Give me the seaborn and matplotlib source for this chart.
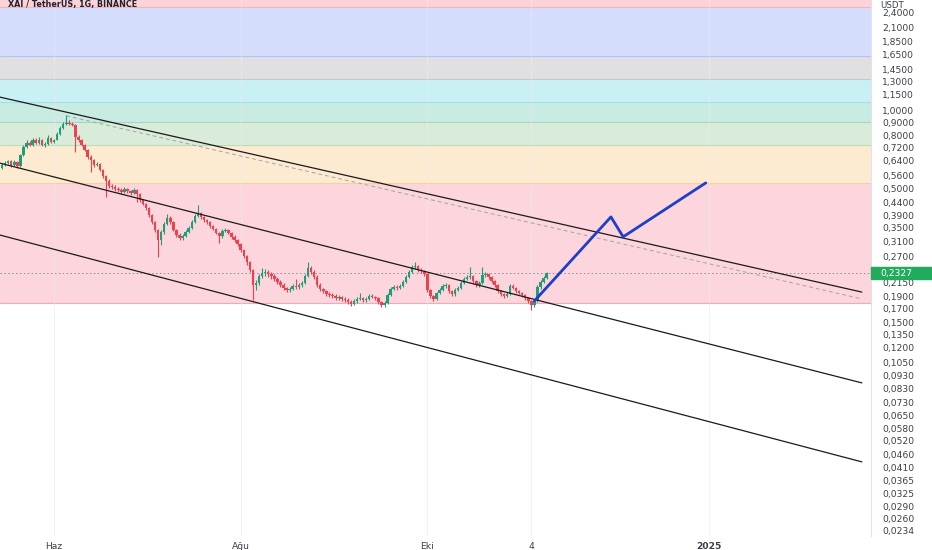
import matplotlib
matplotlib.use("Agg")
import matplotlib.pyplot as plt
import matplotlib.transforms as mtransforms
from matplotlib.patches import Rectangle
from matplotlib.ticker import FixedLocator, FuncFormatter, NullLocator
import numpy as np
import pandas as pd
import seaborn as sns

# daily candles XAI/USDT, first candle on 2024-05-15
first_day = "2024-05-15"
first_open = 0.600
closes = [
    0.615, 0.626, 0.637, 0.615, 0.632, 0.610, 0.673, 0.723, 0.749, 0.736,
    0.769, 0.749, 0.769, 0.736, 0.742, 0.783, 0.756, 0.769, 0.812, 0.857,
    0.888, 0.896, 0.888, 0.880, 0.790, 0.769, 0.736, 0.703, 0.661, 0.643,
    0.615, 0.621, 0.588, 0.557, 0.533, 0.510, 0.505, 0.496, 0.492, 0.483,
    0.496, 0.487, 0.479, 0.492, 0.474, 0.450, 0.434, 0.4185, 0.393, 0.369,
    0.344, 0.314, 0.338, 0.3626, 0.3827, 0.369, 0.344, 0.329, 0.320, 0.3257,
    0.338, 0.350, 0.369, 0.3896, 0.400, 0.386, 0.376, 0.369, 0.356, 0.347,
    0.3346, 0.3257, 0.3406, 0.344, 0.3346, 0.323, 0.314, 0.303, 0.287, 0.2723,
    0.258, 0.240, 0.210, 0.214, 0.2277, 0.234, 0.236, 0.2318, 0.2277, 0.2216,
    0.216, 0.210, 0.2045, 0.201, 0.2026, 0.2082, 0.206, 0.210, 0.214, 0.2277,
    0.2446, 0.236, 0.226, 0.210, 0.2026, 0.199, 0.1938, 0.192, 0.1903, 0.187,
    0.1887, 0.1853, 0.1837, 0.1804, 0.1772, 0.182, 0.1853, 0.187, 0.1837, 0.1853,
    0.1903, 0.1887, 0.187, 0.1804, 0.1756, 0.1788, 0.192, 0.2026, 0.206, 0.2045,
    0.2082, 0.216, 0.226, 0.236, 0.247, 0.249, 0.240, 0.238, 0.2318, 0.201,
    0.1903, 0.1853, 0.1955, 0.201, 0.2082, 0.210, 0.199, 0.1938, 0.201, 0.2045,
    0.214, 0.2216, 0.226, 0.2277, 0.2177, 0.210, 0.214, 0.230, 0.2318, 0.226,
    0.2177, 0.210, 0.199, 0.1938, 0.1903, 0.1938, 0.2082, 0.2045, 0.199, 0.1955,
    0.192, 0.187, 0.182, 0.1756, 0.182, 0.206, 0.216, 0.224, 0.2327,
]
highs = [
    0.625, 0.635, 0.645, 0.642, 0.640, 0.636, 0.680, 0.735, 0.765, 0.760,
    0.785, 0.780, 0.790, 0.775, 0.752, 0.800, 0.792, 0.778, 0.822, 0.868,
    0.900, 0.962, 0.915, 0.905, 0.890, 0.800, 0.775, 0.742, 0.708, 0.670,
    0.650, 0.630, 0.625, 0.592, 0.562, 0.540, 0.518, 0.512, 0.505, 0.500,
    0.505, 0.500, 0.492, 0.500, 0.497, 0.478, 0.455, 0.438, 0.422, 0.396,
    0.372, 0.348, 0.344, 0.368, 0.395, 0.388, 0.372, 0.348, 0.334, 0.330,
    0.342, 0.355, 0.374, 0.395, 0.430, 0.405, 0.390, 0.380, 0.372, 0.360,
    0.350, 0.338, 0.346, 0.350, 0.348, 0.338, 0.327, 0.318, 0.306, 0.290,
    0.275, 0.261, 0.243, 0.220, 0.232, 0.245, 0.242, 0.240, 0.235, 0.231,
    0.225, 0.219, 0.213, 0.207, 0.206, 0.212, 0.222, 0.214, 0.218, 0.232,
    0.258, 0.248, 0.239, 0.229, 0.213, 0.205, 0.201, 0.197, 0.195, 0.193,
    0.192, 0.191, 0.188, 0.186, 0.183, 0.185, 0.188, 0.196, 0.189, 0.188,
    0.193, 0.193, 0.191, 0.189, 0.182, 0.182, 0.195, 0.206, 0.209, 0.210,
    0.212, 0.219, 0.229, 0.240, 0.252, 0.258, 0.252, 0.244, 0.241, 0.234,
    0.203, 0.192, 0.198, 0.204, 0.212, 0.214, 0.212, 0.201, 0.204, 0.208,
    0.217, 0.225, 0.230, 0.247, 0.230, 0.220, 0.217, 0.247, 0.236, 0.234,
    0.228, 0.220, 0.212, 0.201, 0.196, 0.197, 0.212, 0.211, 0.206, 0.201,
    0.197, 0.194, 0.189, 0.184, 0.185, 0.209, 0.219, 0.228, 0.236,
]
lows = [
    0.595, 0.608, 0.620, 0.605, 0.610, 0.598, 0.605, 0.668, 0.715, 0.725,
    0.730, 0.740, 0.742, 0.728, 0.722, 0.738, 0.748, 0.745, 0.765, 0.805,
    0.850, 0.875, 0.878, 0.870, 0.690, 0.755, 0.728, 0.695, 0.650, 0.578,
    0.605, 0.608, 0.580, 0.548, 0.462, 0.502, 0.495, 0.488, 0.483, 0.474,
    0.478, 0.480, 0.470, 0.472, 0.442, 0.442, 0.428, 0.412, 0.386, 0.362,
    0.336, 0.270, 0.300, 0.332, 0.358, 0.362, 0.340, 0.322, 0.315, 0.315,
    0.322, 0.334, 0.346, 0.365, 0.385, 0.380, 0.370, 0.362, 0.350, 0.342,
    0.330, 0.306, 0.320, 0.336, 0.330, 0.318, 0.309, 0.298, 0.282, 0.268,
    0.252, 0.235, 0.1837, 0.200, 0.210, 0.224, 0.228, 0.226, 0.222, 0.218,
    0.212, 0.206, 0.200, 0.197, 0.198, 0.200, 0.203, 0.203, 0.207, 0.211,
    0.225, 0.232, 0.222, 0.206, 0.199, 0.195, 0.190, 0.188, 0.187, 0.184,
    0.184, 0.182, 0.180, 0.177, 0.174, 0.175, 0.179, 0.183, 0.181, 0.181,
    0.183, 0.186, 0.184, 0.177, 0.172, 0.173, 0.177, 0.190, 0.200, 0.201,
    0.202, 0.206, 0.213, 0.223, 0.233, 0.243, 0.236, 0.234, 0.228, 0.198,
    0.187, 0.182, 0.183, 0.193, 0.199, 0.205, 0.196, 0.190, 0.191, 0.199,
    0.202, 0.211, 0.219, 0.222, 0.214, 0.207, 0.207, 0.212, 0.226, 0.222,
    0.214, 0.207, 0.196, 0.190, 0.187, 0.188, 0.192, 0.202, 0.196, 0.193,
    0.189, 0.184, 0.178, 0.168, 0.172, 0.180, 0.203, 0.213, 0.221,
]
last_price = 0.2327

# colored zones (price edges, bottom to top)
zone_edges = [0.1788, 0.523, 0.736, 0.906, 1.081, 1.328, 1.632, 2.53, 3.2]
zone_colors = ["#fcd6dc", "#fdebd1", "#d9ecd9", "#c8ebe2", "#c9f0f5",
               "#e0e0e2", "#d4ddfc", "#fbd3d9"]
zone_lines = ["#f7a8b4", "#f9cf9c", "#b9dcb9", "#a3d8c8", "#a2e0ea",
              "#c8c8cc", "#b3c2f5", "#f4b3bd"]

# channel and projection drawings
channel_dates = ["2024-05-14", "2025-02-20"]
channel_upper = [1.130, 0.197]
channel_mid = [0.626, 0.0874]
channel_low = [0.329, 0.0431]
ref_dates = ["2024-06-05", "2025-02-20"]
ref_prices = [0.954, 0.1853]
path_dates = ["2024-11-05", "2024-11-30", "2024-12-04", "2024-12-31"]
path_prices = [0.182, 0.386, 0.323, 0.5235]

y_ticks = [2.4, 2.1, 1.85, 1.65, 1.45, 1.3, 1.15, 1.0, 0.9, 0.8, 0.72, 0.64,
           0.56, 0.5, 0.44, 0.39, 0.35, 0.31, 0.27, 0.24, 0.215, 0.19, 0.17,
           0.15, 0.135, 0.12, 0.105, 0.093, 0.083, 0.073, 0.065, 0.058,
           0.052, 0.046, 0.041, 0.0365, 0.0325, 0.029, 0.026, 0.0234]
x_tick_dates = ["2024-06-01", "2024-08-01", "2024-10-01", "2024-11-04", "2025-01-01"]
x_tick_labels = ["Haz", "Ağu", "Eki", "4", "2025"]

sns.set_style("white")
plt.rcParams['font.family'] = ['DejaVu Sans']

W, H = 932, 550
fig = plt.figure(figsize=(W / 100, H / 100), dpi=100)
ax = fig.add_axes([0, 14 / H, 871 / W, 536 / H])
ax.set_yscale("log")

dates = pd.date_range(first_day, periods=len(closes), freq="D")
c = np.array(closes)
o = np.array([first_open] + closes[:-1])
up = c >= o
colors = np.where(up, "#1f9e78", "#f0404f")

# zones
for i, col in enumerate(zone_colors):
    ax.axhspan(zone_edges[i], zone_edges[i + 1], color=col, lw=0, zorder=0)
for i, col in enumerate(zone_lines):
    ax.axhline(zone_edges[i], color=col, lw=0.8, zorder=0.5)

# vertical grid
for d in x_tick_dates:
    ax.axvline(pd.Timestamp(d), color="#e9ebf0", lw=0.6, zorder=0.6, alpha=0.7)

# candles
ax.vlines(dates, lows, highs, colors=colors, lw=0.8, zorder=3)
ax.bar(dates, np.maximum(np.abs(c - o), c * 0.006), bottom=np.minimum(o, c),
       width=0.8, color=colors, lw=0, zorder=4)

# last price dotted line
ax.axhline(last_price, color="#8a8f9c", lw=0.7, ls=(0, (1.5, 2.5)), zorder=2)

# channel lines
cd = pd.to_datetime(channel_dates)
for vals in (channel_upper, channel_mid, channel_low):
    sns.lineplot(x=cd, y=vals, ax=ax, color="#1a1a1a", lw=0.9, zorder=5,
                 legend=False)
sns.lineplot(x=pd.to_datetime(ref_dates), y=ref_prices, ax=ax, color="#a3a3a8",
             lw=0.7, ls=(0, (4, 3)), zorder=2, legend=False)
sns.lineplot(x=pd.to_datetime(path_dates), y=path_prices, ax=ax, sort=False,
             color="#1f3fc4", lw=2.0, zorder=6, legend=False)

ax.set_xlim(pd.Timestamp("2024-05-14 08:00"), pd.Timestamp("2025-02-23"))
ax.set_ylim(0.0222, 2.69)

# axes styling
ax.yaxis.tick_right()
ax.yaxis.set_major_locator(FixedLocator(y_ticks))
ax.yaxis.set_minor_locator(NullLocator())
ax.yaxis.set_major_formatter(FuncFormatter(lambda v, p: f"{v:.4f}".replace(".", ",")))
ax.tick_params(axis="y", length=0, pad=8, labelsize=6.6, labelcolor="#3b3f4a")
ax.set_xticks(pd.to_datetime(x_tick_dates))
ax.set_xticklabels(x_tick_labels)
ax.tick_params(axis="x", length=0, pad=4, labelsize=6.6, labelcolor="#3b3f4a")
ax.get_xticklabels()[-1].set_fontweight("bold")
ax.set_xlabel("")
ax.set_ylabel("")
for side in ("top", "left", "bottom"):
    ax.spines[side].set_visible(False)
ax.spines["right"].set_color("#e0e3eb")
ax.spines["right"].set_linewidth(0.8)

# last price tag on the axis
trans = mtransforms.blended_transform_factory(ax.transAxes, ax.transData)
half = np.exp(6 / 111.7)
ax.add_patch(Rectangle((1.0, last_price / half), 61 / 871,
                       last_price * half - last_price / half, transform=trans,
                       color="#22ab5c", clip_on=False, zorder=10))
ax.text(1.0 + 9 / 871, last_price, f"{last_price:.4f}".replace(".", ","),
        transform=trans, color="white", fontsize=6.6, va="center", ha="left",
        zorder=11, clip_on=False)

fig.text(8 / W, 1 - 5 / H, "XAI / TetherUS, 1G, BINANCE", fontsize=5.8,
         fontweight="bold", color="#1e222d", va="center", ha="left")
fig.text(880 / W, 1 - 6 / H, "USDT", fontsize=6.2, color="#3b3f4a",
         va="center", ha="left")

fig.savefig("out.png", dpi=100, facecolor="white")
